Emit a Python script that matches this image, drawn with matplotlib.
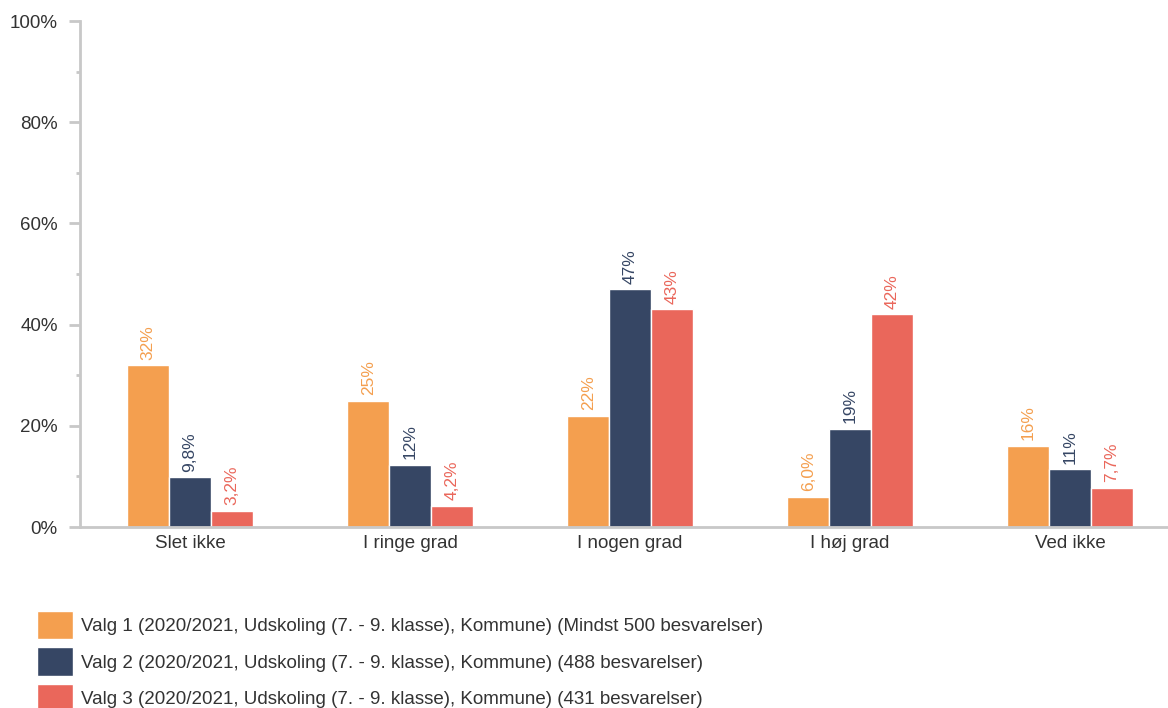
import numpy as np
import matplotlib.pyplot as plt
from matplotlib.ticker import MultipleLocator, FuncFormatter

plt.rcParams['font.family'] = ['Liberation Sans', 'DejaVu Sans']

categories = ["Slet ikke", "I ringe grad", "I nogen grad", "I høj grad", "Ved ikke"]
valg1 = [32, 25, 22, 6.0, 16]
valg2 = [9.8, 12.3, 47, 19.4, 11.4]
valg3 = [3.2, 4.2, 43, 42, 7.7]
series_names = [
    "Valg 1 (2020/2021, Udskoling (7. - 9. klasse), Kommune) (Mindst 500 besvarelser)",
    "Valg 2 (2020/2021, Udskoling (7. - 9. klasse), Kommune) (488 besvarelser)",
    "Valg 3 (2020/2021, Udskoling (7. - 9. klasse), Kommune) (431 besvarelser)",
]
colors = ["#F49F4F", "#364664", "#EA675B"]


def fmt(v):
    if v < 10:
        return f"{v:.1f}".replace(".", ",") + "%"
    return f"{v:.0f}%"


fig = plt.figure(figsize=(11.68, 7.08), dpi=100)
ax = fig.add_axes([80 / 1168, 1 - 527 / 708, 1088 / 1168, 506 / 708])

x = np.arange(len(categories))
w = 0.19
for i, (vals, col, name) in enumerate(zip([valg1, valg2, valg3], colors, series_names)):
    pos = x + (i - 1) * w
    ax.bar(pos, vals, width=w, color=col, edgecolor="white", linewidth=1, label=name)
    for p, v in zip(pos, vals):
        ax.annotate(fmt(v), (p, v), xytext=(0, 4), textcoords="offset points",
                    rotation=90, ha="center", va="bottom", color=col, fontsize=12.5)

ax.set_xlim(-0.5, 4.445)
ax.set_ylim(0, 100)
ax.yaxis.set_major_locator(MultipleLocator(20))
ax.yaxis.set_minor_locator(MultipleLocator(10))
ax.yaxis.set_major_formatter(FuncFormatter(lambda v, _: f"{v:.0f}%"))
ax.set_xticks(x)
ax.set_xticklabels(categories)

for s in ["top", "right"]:
    ax.spines[s].set_visible(False)
for s in ["left", "bottom"]:
    ax.spines[s].set_color("#C8C8C8")
    ax.spines[s].set_linewidth(2)
ax.tick_params(axis="y", which="major", length=8, width=2, color="#C8C8C8",
               labelsize=13.5, labelcolor="#333333", pad=8)
ax.tick_params(axis="y", which="minor", length=3, width=2, color="#C8C8C8")
ax.tick_params(axis="x", length=0, labelsize=13.5, labelcolor="#333333", pad=6)

fig.legend(loc="upper left", bbox_to_anchor=(37 / 1168, 1 - 611 / 708), frameon=False,
           fontsize=13.5, handlelength=1.92, handleheight=1.95, labelspacing=0.43,
           handletextpad=0.45, borderpad=0, borderaxespad=0, labelcolor="#333333")

fig.savefig("out.png", dpi=100)
